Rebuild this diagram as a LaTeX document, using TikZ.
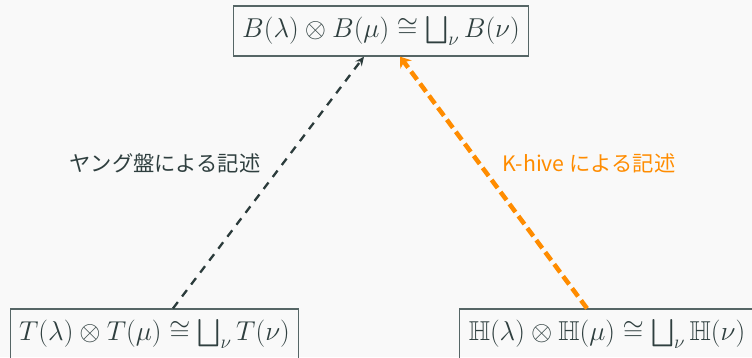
\RequirePackage{fix-cm}
\documentclass[tikz,border=0pt]{standalone}
\usepackage{amsmath,amssymb}
\usepackage{fontspec}
\newfontfamily\jpfont{Noto Sans CJK JP}
\usetikzlibrary{arrows.meta}
\definecolor{bgc}{HTML}{F9F9F9}
\definecolor{txt}{HTML}{2F3F3F}
\definecolor{boxc}{HTML}{566666}
\definecolor{darkarr}{HTML}{2B3B3B}
\definecolor{orng}{HTML}{FF8C00}
\tikzset{
  mathbox/.style={draw=boxc, line width=1.2pt, text=txt, inner xsep=9pt, inner ysep=0pt, minimum height=50pt, font=\fontsize{27.3}{32}\selectfont},
  lbl/.style={font=\jpfont\fontsize{21.3}{25}\selectfont},
  darkline/.style={draw=darkarr, line width=2.3pt, dash pattern=on 8pt off 7pt, -{Stealth[length=9pt,width=8pt]}},
  orngline/.style={draw=orng, line width=4.5pt, dash pattern=on 10pt off 5pt, -{Stealth[length=10pt,width=14pt]}}
}
\begin{document}
\begin{tikzpicture}[x=1pt,y=-1pt]
\fill[bgc] (0,0) rectangle (752,357);
\useasboundingbox (0,0) rectangle (752,357);
\node[mathbox] (top) at (381,31) {$B(\lambda)\otimes B(\mu)\cong\bigsqcup_{\nu} B(\nu)$};
\node[mathbox] (bl) at (154.5,334) {$T(\lambda)\otimes T(\mu)\cong\bigsqcup_{\nu} T(\nu)$};
\node[mathbox] (br) at (607,334) {$\mathbb{H}(\lambda)\otimes \mathbb{H}(\mu)\cong\bigsqcup_{\nu} \mathbb{H}(\nu)$};
\draw[darkline] ([xshift=18.5pt]bl.north) -- ([xshift=-17pt]top.south);
\draw[orngline] ([xshift=-20pt]br.north) -- ([xshift=19pt]top.south);
\node[lbl, text=txt] (l1) at (165,163) {ヤング盤による記述};
\node[lbl, text=orng] (l2) at (589,163) {K-hive による記述};
\end{tikzpicture}
\end{document}
